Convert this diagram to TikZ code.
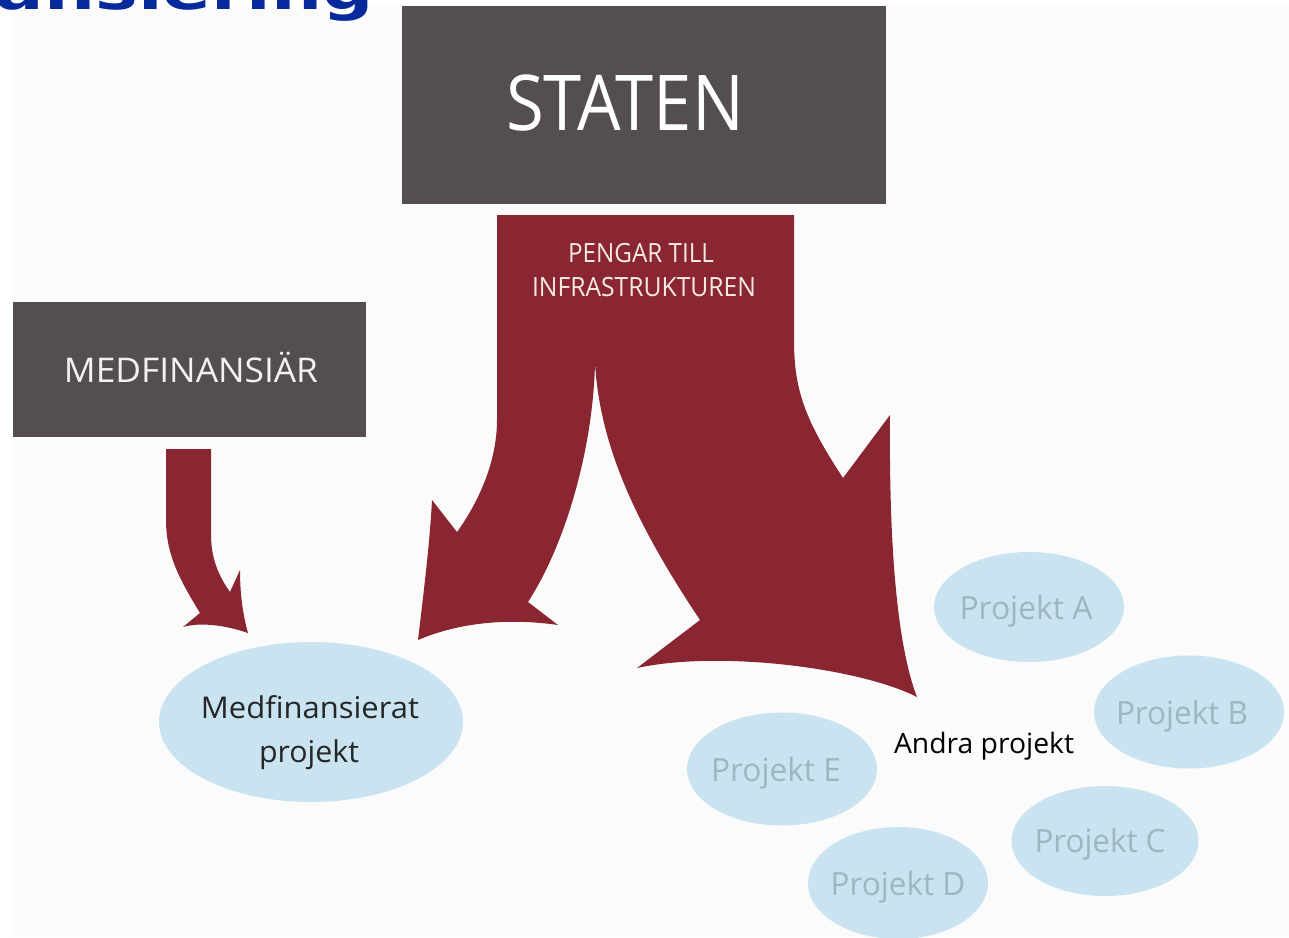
\documentclass[tikz,border=0pt]{standalone}
\usepackage{fontspec}
\usepackage{graphicx}
\setmainfont{Open Sans}
\newfontfamily\titlefont{DejaVu Sans}
\usetikzlibrary{shapes.geometric}
\definecolor{boxgrey}{HTML}{554E4E}
\definecolor{arrowred}{HTML}{8A2532}
\definecolor{ellblue}{HTML}{C9E3F0}
\definecolor{projtext}{HTML}{9FB6C0}
\definecolor{titleblue}{HTML}{06299B}
\definecolor{bgpaper}{HTML}{FBFBFB}
\definecolor{cream}{HTML}{F5EAE2}
\newcommand{\fitw}[3]{{\fontsize{#2}{#2}\selectfont\resizebox{#1}{\height}{#3}}}
\tikzset{
  greybox/.style={fill=boxgrey, draw=none},
  flow/.style={fill=arrowred, draw=none},
  proj/.style={ellipse, fill=ellblue, draw=none, inner sep=0pt},
  lbl/.style={anchor=base, inner sep=0pt},
}
\begin{document}
\begin{tikzpicture}[x=1pt,y=-1pt]
\useasboundingbox (0,0) rectangle (1289,937);
\clip (0,0) rectangle (1289,937);
\fill[white] (0,0) rectangle (1289,937);
\fill[bgpaper] (13,6) rectangle (1289,937);

% title fragment
\node[lbl, text=titleblue] (title) at (185,9) {\titlefont\bfseries\fitw{378pt}{55pt}{ansiering}};

% boxes
\node[greybox, minimum width=484pt, minimum height=198pt, inner sep=0pt] (staten) at (644,105) {};
\node[lbl, text=white] (statentxt) at (625,130) {\fitw{238pt}{77pt}{STATEN}};
\node[greybox, minimum width=353pt, minimum height=135pt, inner sep=0pt] (medf) at (189.5,369.5) {};
\node[lbl, text=white!95!black] (medftxt) at (191,382) {\fitw{254pt}{34pt}{MEDFINANSIÄR}};

% big flow
\path[flow] (497,215) -- (794,215) -- (794,340)
  .. controls (794,390) and (805,420) .. (843,478)
  -- (890,415)
  .. controls (889,530) and (895,640) .. (917,697)
  .. controls (860,668) and (720,650) .. (637,668)
  -- (700,620)
  .. controls (640,530) and (600,450) .. (595,363)
  .. controls (593,450) and (565,545) .. (528,602)
  -- (558,625)
  .. controls (510,618) and (460,622) .. (418,640)
  .. controls (424,590) and (430,540) .. (432,500)
  -- (457,532)
  .. controls (480,500) and (497,460) .. (497,420)
  -- cycle;
\node[lbl, text=cream] (peng1) at (641,262) {\fitw{146pt}{26.5pt}{PENGAR TILL}};
\node[lbl, text=cream] (peng2) at (644,296) {\fitw{224pt}{26.5pt}{INFRASTRUKTUREN}};

% small flow
\path[flow] (166,449) -- (211,449) -- (211,535)
  .. controls (211,560) and (220,578) .. (230,592)
  -- (240,570)
  .. controls (240,595) and (243,615) .. (248,633)
  .. controls (225,625) and (200,622) .. (183,627)
  -- (200,613)
  .. controls (180,580) and (166,555) .. (166,520)
  -- cycle;

% ellipses
\node[proj, minimum width=304pt, minimum height=160pt] (mp) at (311,722) {};
\node[lbl, text=black!85] (mp1) at (310,718) {\fitw{218pt}{30pt}{Medfinansierat}};
\node[lbl, text=black!85] (mp2) at (309,762) {\fitw{100pt}{30pt}{projekt}};

\node[proj, minimum width=190pt, minimum height=110pt] (pa) at (1029,607) {};
\node[proj, minimum width=190pt, minimum height=113pt] (pb) at (1189,712) {};
\node[proj, minimum width=187pt, minimum height=110pt] (pc) at (1105,841) {};
\node[proj, minimum width=180pt, minimum height=112pt] (pd) at (898,883) {};
\node[proj, minimum width=190pt, minimum height=113pt] (pe) at (782,769) {};

\node[lbl, text=projtext] (pat) at (1026,619) {\fitw{133pt}{32pt}{Projekt A}};
\node[lbl, text=projtext] (pbt) at (1182,724) {\fitw{132pt}{32pt}{Projekt B}};
\node[lbl, text=projtext] (pct) at (1100,852) {\fitw{131pt}{32pt}{Projekt C}};
\node[lbl, text=projtext] (pdt) at (898,895) {\fitw{135pt}{32pt}{Projekt D}};
\node[lbl, text=projtext] (pet) at (776,781) {\fitw{130pt}{32pt}{Projekt E}};

\node[lbl, text=black] (andra) at (984,753) {\fitw{180pt}{28pt}{Andra projekt}};
\end{tikzpicture}
\end{document}
